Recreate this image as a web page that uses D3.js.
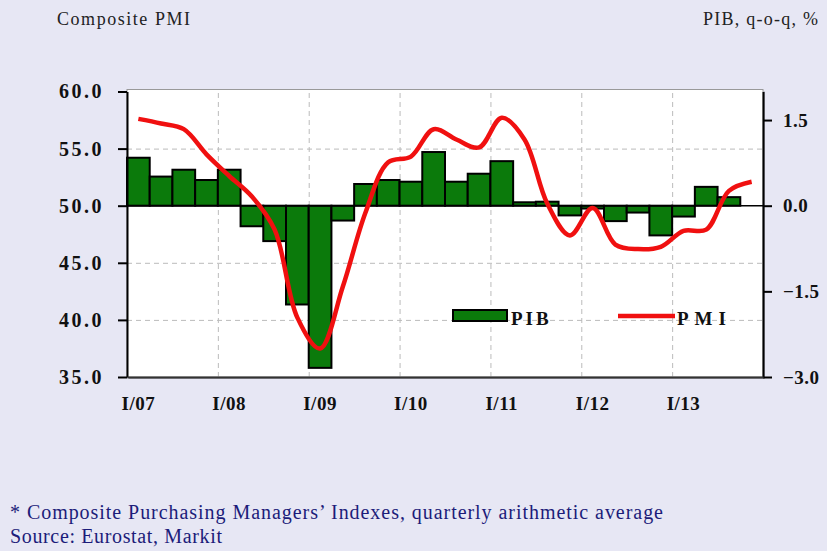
<!DOCTYPE html>
<html>
<head>
<meta charset="utf-8">
<script src="https://cdn.jsdelivr.net/npm/d3@7"></script>
<style>
  body { margin: 0; background: #e7e7f4; }
  svg { display: block; }
  .grid line { stroke: #bbb; stroke-dasharray: 5,4; }
  .grid path { display: none; }
</style>
</head>
<body>
<div id="chart"></div>
<script>
let width = 827;
let height = 551;

// quarters I/07 .. IV/13
let quarters = [];
for (let y = 7; y <= 13; y++) {
    ["I", "II", "III", "IV"].forEach(q => quarters.push(q + "/" + (y < 10 ? "0" + y : y)));
}

// GDP q-o-q %, right axis (no value yet for IV/13)
let pib = [0.84, 0.51, 0.63, 0.45, 0.63, -0.36, -0.62, -1.73,
    -2.84, -0.26, 0.38, 0.45, 0.42, 0.94, 0.42, 0.56,
    0.78, 0.06, 0.07, -0.17, -0.05, -0.27, -0.12, -0.52,
    -0.19, 0.33, 0.15, null];

// composite PMI, quarterly average, left axis
let pmi = [57.6, 57.2, 56.7, 54.5, 52.6, 50.8, 47.9, 40.2,
    37.5, 42.9, 49.4, 53.8, 54.3, 56.7, 55.8, 55.1,
    57.7, 55.8, 50.2, 47.4, 49.8, 46.6, 46.2, 46.4,
    47.8, 47.9, 51.3, 52.1];

let leftTicks = [35, 40, 45, 50, 55, 60];
let rightTicks = [-3.0, -1.5, 0.0, 1.5];
let xLabels = ["I/07", "I/08", "I/09", "I/10", "I/11", "I/12", "I/13"];

let plot = {left: 127, right: 763, top: 91.5, bottom: 377};
let serif = "Liberation Serif, serif";

let svg = d3.select("#chart")
    .append("svg")
    .attr("width", width)
    .attr("height", height);

// background
svg.append("rect")
    .attr("width", width)
    .attr("height", height)
    .attr("fill", "#e7e7f4");

let xScale = d3.scaleBand()
    .domain(quarters)
    .range([plot.left, plot.right])
    .padding(0);

let yLeft = d3.scaleLinear().domain([35, 60]).range([plot.bottom, plot.top]);
let yRight = d3.scaleLinear().domain([-3, 2]).range([plot.bottom, plot.top]);

// plot area with shadow
svg.append("rect")
    .attr("x", plot.left + 2)
    .attr("y", plot.top)
    .attr("width", plot.right - plot.left)
    .attr("height", plot.bottom - plot.top + 2)
    .attr("fill", "#a9a9b4");
svg.append("rect")
    .attr("x", plot.left)
    .attr("y", plot.top - 2)
    .attr("width", plot.right - plot.left)
    .attr("height", plot.bottom - plot.top + 2)
    .attr("fill", "white")
    .attr("stroke", "#999")
    .attr("stroke-width", 1);

// horizontal grid
svg.append("g")
    .attr("class", "grid")
    .attr("transform", "translate(" + plot.left + ",0)")
    .call(d3.axisRight(yLeft)
        .tickValues([40, 45, 55])
        .tickSize(plot.right - plot.left)
        .tickFormat(""));

// vertical grid between years
let yearStarts = quarters.filter((q, i) => i > 0 && i % 4 === 0);
svg.append("g")
    .attr("class", "grid")
    .attr("transform", "translate(0," + plot.bottom + ")")
    .call(d3.axisTop(d3.scalePoint().domain(yearStarts).range([xScale(yearStarts[0]), xScale(yearStarts[yearStarts.length - 1])]))
        .tickSize(plot.bottom - plot.top)
        .tickFormat(""));

// bars
svg.append("g")
    .selectAll("rect")
    .data(quarters.map((q, i) => ({q: q, v: pib[i]})).filter(d => d.v !== null))
    .join("rect")
    .attr("x", d => xScale(d.q))
    .attr("width", xScale.bandwidth())
    .attr("y", d => yRight(Math.max(0, d.v)))
    .attr("height", d => Math.abs(yRight(d.v) - yRight(0)))
    .attr("fill", "#0b7a0b")
    .attr("stroke", "black")
    .attr("stroke-width", 2);

// zero line
svg.append("line")
    .attr("x1", plot.left)
    .attr("x2", plot.right)
    .attr("y1", yRight(0))
    .attr("y2", yRight(0))
    .attr("stroke", "black")
    .attr("stroke-width", 1.5);

// PMI line
let line = d3.line()
    .x((d, i) => xScale(quarters[i]) + xScale.bandwidth() / 2)
    .y(d => yLeft(d))
    .curve(d3.curveCatmullRom.alpha(0.5));

svg.append("path")
    .datum(pmi)
    .attr("fill", "none")
    .attr("stroke", "#f01010")
    .attr("stroke-width", 4.5)
    .attr("stroke-linejoin", "round")
    .attr("d", line);

function tickStyle(g, size, spacing) {
    g.selectAll(".tick text")
        .style("font-family", serif)
        .style("font-weight", "bold")
        .style("font-size", size + "px")
        .style("letter-spacing", spacing + "px")
        .style("fill", "#111");
}

// left axis
svg.append("g")
    .attr("transform", "translate(" + plot.left + ",0)")
    .call(d3.axisLeft(yLeft).tickValues(leftTicks).tickFormat(d3.format(".1f")).tickSize(9).tickSizeOuter(0).tickPadding(14))
    .call(g => g.selectAll("line, path").attr("stroke", "black").attr("stroke-width", 2))
    .call(g => tickStyle(g, 20, 2.5));

// right axis
svg.append("g")
    .attr("transform", "translate(" + plot.right + ",0)")
    .call(d3.axisRight(yRight).tickValues(rightTicks).tickFormat(d3.format(".1f")).tickSize(9).tickSizeOuter(0).tickPadding(11))
    .call(g => g.selectAll("line, path").attr("stroke", "black").attr("stroke-width", 2))
    .call(g => tickStyle(g, 19, 0.5));

// bottom axis
svg.append("g")
    .attr("transform", "translate(0," + plot.bottom + ")")
    .call(d3.axisBottom(xScale).tickValues(xLabels).tickSize(0).tickPadding(20))
    .call(g => g.select(".domain").attr("stroke", "#333").attr("stroke-width", 2))
    .call(g => tickStyle(g, 19, 0.5));

// legend
let legend = svg.append("g");
legend.append("rect")
    .attr("x", 453).attr("y", 310).attr("width", 54).attr("height", 11)
    .attr("fill", "#0b7a0b").attr("stroke", "black").attr("stroke-width", 2);
legend.append("text")
    .attr("x", 511).attr("y", 325)
    .attr("font-family", serif).attr("font-weight", "bold")
    .attr("font-size", "19px").attr("letter-spacing", "3px").attr("fill", "#111")
    .text("PIB");
legend.append("line")
    .attr("x1", 618).attr("x2", 675).attr("y1", 316).attr("y2", 316)
    .attr("stroke", "#f01010").attr("stroke-width", 4.5);
legend.append("text")
    .attr("x", 677).attr("y", 325)
    .attr("font-family", serif).attr("font-weight", "bold")
    .attr("font-size", "19px").attr("letter-spacing", "6px").attr("fill", "#111")
    .text("PMI");

// axis titles
svg.append("text")
    .attr("x", 57).attr("y", 25)
    .attr("font-family", serif).attr("font-size", "18px").attr("fill", "#222")
    .attr("textLength", 133).attr("lengthAdjust", "spacing")
    .text("Composite PMI");
svg.append("text")
    .attr("x", 703).attr("y", 25)
    .attr("font-family", serif).attr("font-size", "18px").attr("fill", "#222")
    .attr("textLength", 115).attr("lengthAdjust", "spacing")
    .text("PIB, q-o-q, %");

// footnote
svg.append("text")
    .attr("x", 10).attr("y", 519)
    .attr("font-family", serif).attr("font-size", "20px").attr("fill", "#1c1c7a")
    .attr("textLength", 653).attr("lengthAdjust", "spacing")
    .text("* Composite Purchasing Managers’ Indexes, quarterly   arithmetic average");
svg.append("text")
    .attr("x", 10).attr("y", 543)
    .attr("font-family", serif).attr("font-size", "20px").attr("fill", "#1c1c7a")
    .attr("textLength", 212).attr("lengthAdjust", "spacing")
    .text("Source: Eurostat, Markit");
</script>
</body>
</html>
